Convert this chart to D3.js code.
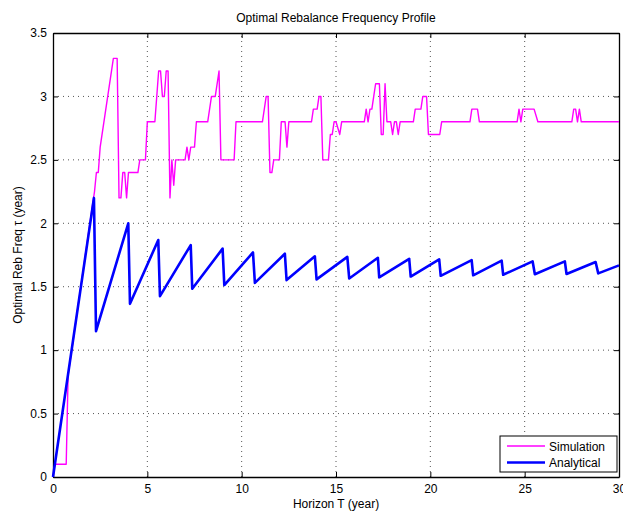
<!DOCTYPE html>
<html lang="en">
<head>
<meta charset="UTF-8">
<title>Optimal Rebalance Frequency Profile</title>
<script src="https://d3js.org/d3.v7.min.js"></script>
<style>
  body { margin: 0; background: #fff; }
  text { font-family: "Liberation Sans", Arial, sans-serif; }
</style>
</head>
<body>
<script>
    const width  = 623;
    const height = 514;
    const margin = {top: 33, right: 4, bottom: 37, left: 53};

    const xTicks = [0, 5, 10, 15, 20, 25, 30];
    const yTicks = [0, 0.5, 1, 1.5, 2, 2.5, 3, 3.5];

    // simulation (magenta)
    const simT = [0, 0.1, 0.7, 0.8, 2.1, 2.2, 2.3, 2.4, 2.5, 3.2, 3.4, 3.5, 3.6, 3.7, 3.8, 3.9, 4.0, 4.5, 4.6, 4.9,
                  5.0, 5.4, 5.6, 5.7, 5.8, 5.9, 6.0, 6.1, 6.2, 6.3, 6.4, 6.5, 7.0, 7.1, 7.2, 7.3, 7.5, 7.6, 8.2, 8.4,
                  8.6, 8.8, 8.9, 9.6, 9.7, 11.1, 11.3, 11.4, 11.5, 11.6, 11.7, 12.0, 12.1, 12.3, 12.4, 12.5, 13.7, 13.8, 14.0, 14.1,
                  14.2, 14.3, 14.6, 14.7, 14.8, 14.9, 15.0, 15.2, 15.3, 16.5, 16.6, 16.7, 16.8, 16.9, 17.0, 17.1, 17.3, 17.4, 17.5, 17.6,
                  17.7, 17.9, 18.0, 18.1, 18.2, 18.3, 18.4, 19.1, 19.2, 19.5, 19.6, 19.8, 19.9, 20.5, 20.6, 22.1, 22.2, 22.5, 22.6, 24.6,
                  24.7, 24.8, 24.9, 25.5, 25.7, 27.5, 27.6, 27.7, 27.8, 27.9, 28.0, 30];
    const simV = [0, 0.1, 0.1, 0.8, 2.15, 2.25, 2.4, 2.4, 2.6, 3.3, 3.3, 2.2, 2.2, 2.4, 2.4, 2.2, 2.4, 2.4, 2.5, 2.5,
                  2.8, 2.8, 3.2, 3.2, 3.0, 3.0, 3.2, 3.2, 2.2, 2.5, 2.3, 2.5, 2.5, 2.6, 2.5, 2.6, 2.6, 2.8, 2.8, 3.0,
                  3.0, 3.2, 2.5, 2.5, 2.8, 2.8, 3.0, 3.0, 2.4, 2.4, 2.5, 2.5, 2.8, 2.8, 2.6, 2.8, 2.8, 2.9, 2.9, 3.0,
                  3.0, 2.5, 2.5, 2.7, 2.7, 2.8, 2.8, 2.7, 2.8, 2.8, 2.9, 2.8, 2.9, 2.9, 3.0, 3.1, 3.1, 2.7, 2.7, 3.1,
                  2.8, 2.8, 2.7, 2.8, 2.8, 2.7, 2.8, 2.8, 2.9, 2.9, 3.0, 3.0, 2.7, 2.7, 2.8, 2.8, 2.9, 2.9, 2.8, 2.8,
                  2.9, 2.8, 2.9, 2.9, 2.8, 2.8, 2.9, 2.9, 2.8, 2.9, 2.8, 2.8];

    // analytical (blue)
    const anaT = [0, 2.17, 2.28, 3.99, 4.08, 5.58, 5.67, 7.30, 7.38, 8.99, 9.08, 10.6, 10.7, 12.29, 12.38, 13.88, 13.97,
                  15.6, 15.7, 17.22, 17.29, 18.88, 18.96, 20.47, 20.55, 22.19, 22.27, 23.78, 23.86, 25.42, 25.54,
                  27.13, 27.22, 28.76, 28.9, 30];
    const anaV = [0, 2.2, 1.15, 2.0, 1.365, 1.868, 1.426, 1.828, 1.484, 1.80, 1.513, 1.77, 1.53, 1.76, 1.552, 1.74, 1.558,
                  1.735, 1.565, 1.728, 1.574, 1.72, 1.58, 1.715, 1.586, 1.71, 1.59, 1.705, 1.594, 1.70, 1.598,
                  1.70, 1.60, 1.695, 1.605, 1.668];

    const simData = simT.map((t, i) => ({t: t, v: simV[i]}));
    const anaData = anaT.map((t, i) => ({t: t, v: anaV[i]}));

    const x = d3.scaleLinear().domain([0, 30]).range([margin.left, 619]);
    const y = d3.scaleLinear().domain([0, 3.5]).range([477, margin.top]);

    const svg = d3.select("body")
            .append("svg")
            .attr("width", width)
            .attr("height", height);

    svg.append("rect").attr("width", width).attr("height", height).attr("fill", "#fff");

    // grid
    svg.append("g")
            .selectAll("line")
            .data(xTicks.slice(1, -1))
            .join("line")
            .attr("x1", d => x(d)).attr("x2", d => x(d))
            .attr("y1", y(0)).attr("y2", y(3.5))
            .attr("stroke", "#555").attr("stroke-width", 1)
            .attr("stroke-dasharray", "1,4");
    svg.append("g")
            .selectAll("line")
            .data(yTicks.slice(1, -1))
            .join("line")
            .attr("x1", x(0)).attr("x2", x(30))
            .attr("y1", d => y(d)).attr("y2", d => y(d))
            .attr("stroke", "#555").attr("stroke-width", 1)
            .attr("stroke-dasharray", "1,4");

    // axes (ticks inside, box style)
    const fs = "12px";
    const fmt = d3.format("~g");
    const axB = svg.append("g").attr("transform", "translate(0," + y(0) + ")")
            .call(d3.axisBottom(x).tickValues(xTicks).tickFormat(fmt).tickSizeInner(-5).tickSizeOuter(0).tickPadding(7));
    const axT = svg.append("g").attr("transform", "translate(0," + y(3.5) + ")")
            .call(d3.axisTop(x).tickValues(xTicks).tickSizeInner(-5).tickSizeOuter(0).tickFormat(""));
    const axL = svg.append("g").attr("transform", "translate(" + x(0) + ",0)")
            .call(d3.axisLeft(y).tickValues(yTicks).tickFormat(fmt).tickSizeInner(-5).tickSizeOuter(0).tickPadding(6));
    const axR = svg.append("g").attr("transform", "translate(" + x(30) + ",0)")
            .call(d3.axisRight(y).tickValues(yTicks).tickSizeInner(-5).tickSizeOuter(0).tickFormat(""));

    [axB, axT, axL, axR].forEach(g => {
        g.select(".domain").attr("stroke", "#000").attr("stroke-width", 1.3);
        g.selectAll(".tick line").attr("stroke", "#000");
        g.selectAll(".tick text").attr("fill", "#000").style("font-size", fs)
                .style("font-family", "'Liberation Sans', Arial, sans-serif");
    });

    // lines
    const line = d3.line().x(d => x(d.t)).y(d => y(d.v));

    svg.append("path")
            .datum(simData)
            .attr("d", line)
            .attr("fill", "none")
            .attr("stroke", "#ff00ff")
            .attr("stroke-width", 1.4)
            .attr("stroke-linejoin", "round");

    svg.append("path")
            .datum(anaData)
            .attr("d", line)
            .attr("fill", "none")
            .attr("stroke", "#0000ff")
            .attr("stroke-width", 2.6)
            .attr("stroke-linejoin", "round");

    // titles
    svg.append("text")
            .attr("x", (x(0) + x(30)) / 2).attr("y", 22)
            .attr("text-anchor", "middle").style("font-size", fs)
            .text("Optimal Rebalance Frequency Profile");
    svg.append("text")
            .attr("x", (x(0) + x(30)) / 2).attr("y", 508)
            .attr("text-anchor", "middle").style("font-size", fs)
            .text("Horizon T (year)");
    svg.append("text")
            .attr("transform", "translate(22," + ((y(0) + y(3.5)) / 2) + ") rotate(-90)")
            .attr("text-anchor", "middle").style("font-size", fs)
            .text("Optimal Reb Freq \u03c4 (year)");

    // legend
    const lg = svg.append("g").attr("transform", "translate(500,436)");
    lg.append("rect").attr("width", 117).attr("height", 36)
            .attr("fill", "#fff").attr("stroke", "#000").attr("stroke-width", 1);
    const items = [
        {name: "Simulation", color: "#ff00ff", w: 1.4},
        {name: "Analytical", color: "#0000ff", w: 2.6}
    ];
    items.forEach((it, i) => {
        const yy = 10 + i * 16.5;
        lg.append("line").attr("x1", 7).attr("x2", 45).attr("y1", yy).attr("y2", yy)
                .attr("stroke", it.color).attr("stroke-width", it.w);
        lg.append("text").attr("x", 49).attr("y", yy + 4.5).style("font-size", fs).text(it.name);
    });
</script>
</body>
</html>
